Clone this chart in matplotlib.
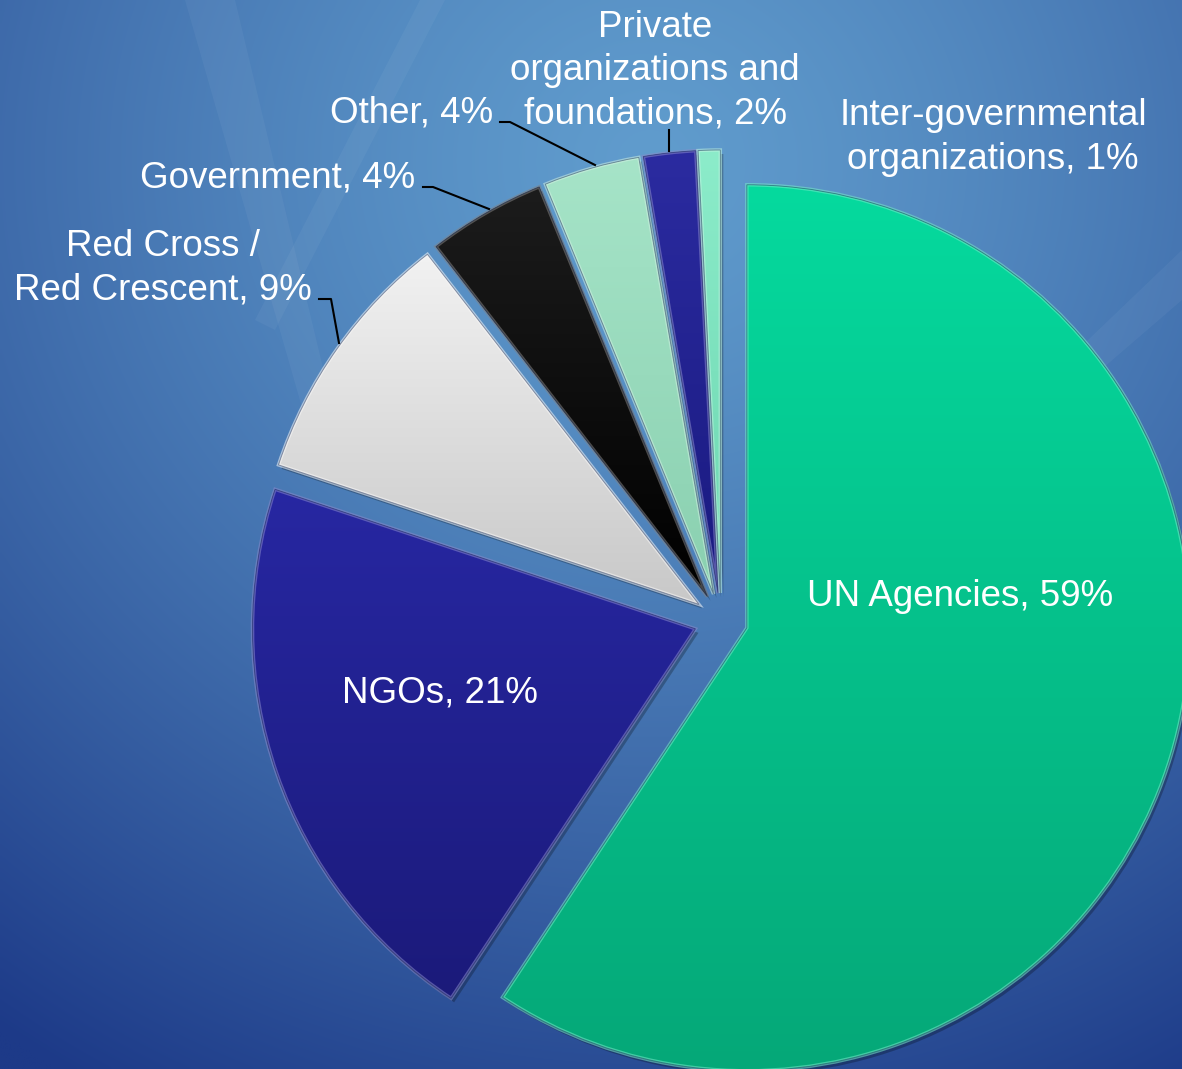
import numpy as np
import matplotlib.pyplot as plt
from matplotlib.colors import to_rgb
from matplotlib.patches import Polygon, PathPatch
from matplotlib.transforms import ScaledTranslation

# funding share by type of organisation (%)
labels = ['UN Agencies', 'NGOs', 'Red Cross /\nRed Crescent', 'Government', 'Other',
          'Private\norganizations and\nfoundations', 'Inter-governmental\norganizations']
shares = [59.3, 20.8, 9.4, 4.3, 3.5, 1.9, 0.8]
top_colors = ['#05da9e', '#2727a2', '#f2f2f2', '#1c1c1c', '#a6e4c8', '#2b2ba0', '#8cecca']
bottom_colors = ['#06a878', '#1b1a7a', '#c8c8c8', '#000000', '#8ad0b0', '#1a1a80', '#6cd6b0']

W, H = 1182, 1069
plt.rcParams['font.family'] = ['Liberation Sans', 'DejaVu Sans']

fig = plt.figure(figsize=(W / 100, H / 100), dpi=100)
ax = fig.add_axes([0, 0, 1, 1])

# blue backdrop, lighter near the top middle
ys = np.linspace(0, 1, 300)[:, None]
xs = np.linspace(0, 1, 330)[None, :]
d = np.sqrt(((xs - 0.55) / 0.95) ** 2 + ((ys - 0.15) / 1.0) ** 2)
d = np.clip(d, 0, 1) ** 1.3
light = np.array(to_rgb('#609ccd'))
dark = np.array(to_rgb('#1d3a88'))
bg = light * (1 - d[..., None]) + dark * d[..., None]
ax.imshow(bg, extent=(0, W, 0, H), origin='upper', aspect='auto', zorder=0,
          interpolation='bilinear')

# faint light streaks
for pts in [[(185, H), (235, H), (345, H - 460), (320, H - 470)],
            [(420, H), (445, H), (275, H - 330), (255, H - 320)],
            [(W, H - 250), (W, H - 300), (880, H - 560), (900, H - 520)]]:
    ax.add_patch(Polygon(pts, closed=True, fc='white', ec='none', alpha=0.045, zorder=1))

wedges, _ = ax.pie(shares, colors=top_colors, startangle=90, counterclock=False,
                   explode=[27] * len(shares), radius=443, center=(721, H - 620),
                   wedgeprops=dict(linewidth=0))

grad = np.linspace(0, 1, 256)[:, None, None]
shift = ScaledTranslation(3 / 100, -4 / 100, fig.dpi_scale_trans)
for w, c_top, c_bot in zip(wedges, top_colors, bottom_colors):
    w.set_zorder(3)
    # soft shadow
    ax.add_patch(PathPatch(w.get_path(), fc='black', ec='none', alpha=0.25, zorder=2,
                           transform=w.get_transform() + shift))
    ext = w.get_path().get_extents()
    cols = np.array(to_rgb(c_top)) * (1 - grad) + np.array(to_rgb(c_bot)) * grad
    im = ax.imshow(cols, extent=(ext.x0, ext.x1, ext.y0, ext.y1), origin='upper',
                   aspect='auto', zorder=3.1, interpolation='bilinear')
    im.set_clip_path(w)
    hl = np.array(to_rgb(c_top)) * 0.55 + 0.45
    ax.add_patch(PathPatch(w.get_path(), fc='none', ec=hl, lw=2.5, alpha=0.55, zorder=3.2))
    ax.add_patch(PathPatch(w.get_path(), fc='none', ec='#10204a', lw=0.6, alpha=0.5, zorder=3.3))

txt = dict(color='white', fontsize=26.5, ha='center', va='center', zorder=5)
label_pos = [(960, 597), (440, 693), (163, 268), (278, 178), (412, 113), (655, 71), (993, 137.5)]
for lab, s, (x, y) in zip(labels, shares, label_pos):
    ax.text(x, H - y, f'{lab}, {s:.0f}%', linespacing=1.3, **txt)

# leader lines
leaders = [[(319, 299), (331, 299), (339, 343)],
           [(423, 187), (433, 187), (489, 209)],
           [(500, 122), (510, 122), (595, 165)],
           [(669, 130), (669, 151)]]
for pts in leaders:
    px, py = zip(*pts)
    ax.plot(px, [H - v for v in py], color='black', lw=1.5, zorder=4)

ax.set_xlim(0, W)
ax.set_ylim(0, H)
ax.set_aspect('auto')
ax.axis('off')

fig.savefig('out.png', dpi=100)
